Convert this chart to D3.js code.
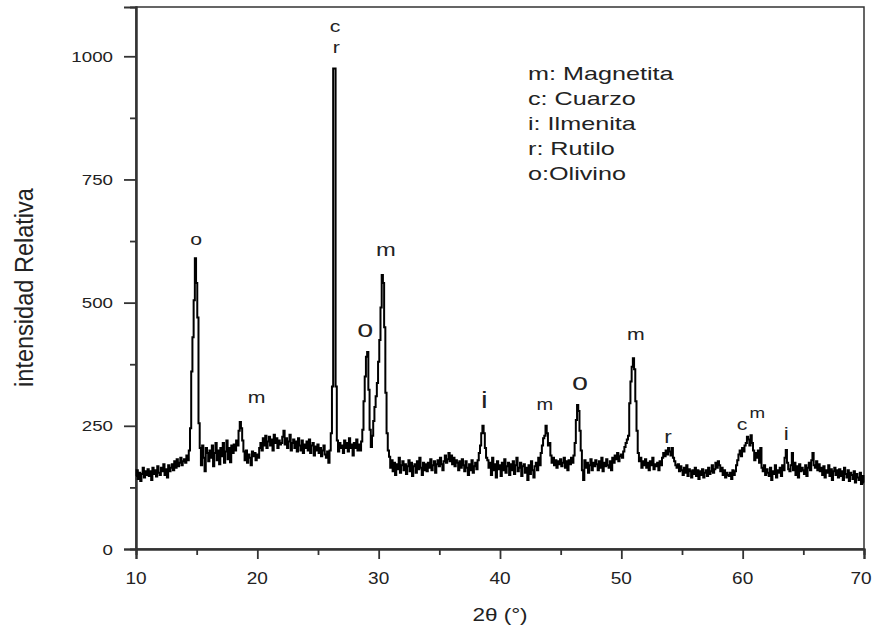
<!DOCTYPE html>
<html>
<head>
<meta charset="utf-8">
<script src="https://cdn.jsdelivr.net/npm/d3@7/dist/d3.min.js"></script>
<style>
  html, body { margin: 0; padding: 0; background: #fff; }
  svg { display: block; }
  text { font-family: "Liberation Sans", Arial, sans-serif; fill: #222; }
</style>
</head>
<body>
<script>
// ---------------- DATA ----------------
const angleStart = 10, angleStep = 0.1;   // sampling grid of the scan (2θ, degrees)
const intensity = [
  148,160,142,155,138,152,165,145,158,150,   // 10
  162,148,158,140,165,152,160,147,168,155,   // 11
  150,165,158,172,150,162,145,170,158,165,   // 12
  172,160,178,165,182,168,175,185,170,178,   // 13
  182,175,190,180,200,245,360,430,505,590,   // 14
  540,470,255,205,170,210,185,158,205,195,   // 15
  178,200,185,210,168,195,215,180,200,172,   // 16
  205,188,215,175,198,220,182,205,176,210,   // 17
  195,212,200,220,210,240,258,245,220,198,   // 18
  180,200,175,192,185,170,198,188,195,180,   // 19
  192,185,205,215,200,225,210,230,205,218,   // 20
  228,210,222,200,232,215,225,205,220,212,   // 21
  215,228,240,212,225,205,218,232,200,215,   // 22
  222,205,218,198,225,210,200,220,195,212,   // 23
  205,218,200,222,195,210,215,190,208,200,   // 24
  212,195,205,188,200,210,192,185,198,175,   // 25
  200,235,330,975,975,330,220,198,215,205,   // 26
  210,195,220,205,215,198,225,205,212,190,   // 27
  215,205,222,200,212,200,218,242,300,350,   // 28
  390,400,323,242,207,230,260,288,310,337,   // 29
  380,424,490,556,540,450,317,235,200,187,   // 30
  165,180,158,175,150,172,162,185,155,170,   // 31
  178,160,172,152,168,180,158,175,148,168,   // 32
  172,155,178,162,185,165,150,175,160,172,   // 33
  158,175,165,182,160,170,178,155,172,180,   // 34
  168,185,172,160,178,190,175,182,195,178,   // 35
  190,172,185,168,180,175,160,178,165,182,   // 36
  170,158,178,165,150,172,160,180,155,168,   // 37
  175,162,180,195,210,235,250,235,205,185,   // 38
  180,165,175,150,185,160,172,145,178,162,   // 39
  170,148,175,160,182,155,168,175,150,172,   // 40
  160,178,152,170,185,158,165,175,148,168,   // 41
  172,155,165,140,170,152,178,160,145,168,   // 42
  175,160,185,170,195,210,225,230,250,235,   // 43
  210,215,190,175,185,170,180,165,178,172,   // 44
  182,168,175,185,165,178,160,180,172,185,   // 45
  175,190,215,262,292,280,240,200,160,140,   // 46
  180,165,175,155,170,182,160,175,168,180,   // 47
  172,160,178,165,185,158,175,168,182,170,   // 48
  165,178,160,185,175,190,182,195,178,188,   // 49
  192,185,198,207,215,222,230,296,340,370,   // 50
  387,365,300,240,195,178,185,165,178,170,   // 51
  182,165,175,160,178,170,185,162,172,168,   // 52
  175,160,178,170,185,195,188,200,192,205,   // 53
  198,190,205,185,178,170,165,172,158,168,   // 54
  160,150,165,155,170,148,162,158,145,160,   // 55
  152,165,148,160,142,158,150,162,145,155,   // 56
  160,148,165,152,158,170,155,162,175,165,   // 57
  178,170,158,165,150,160,145,155,150,148,   // 58
  155,142,160,150,158,170,180,192,200,188,   // 59
  205,198,210,215,228,222,210,231,215,200,   // 60
  180,195,185,200,175,205,165,158,170,150,   // 61
  162,155,148,165,140,158,152,170,145,160,   // 62
  155,165,148,170,160,185,201,175,162,158,   // 63
  170,195,160,175,150,168,145,172,158,165,   // 64
  160,152,170,148,165,175,160,180,195,170,   // 65
  165,178,160,172,158,165,150,168,145,160,   // 66
  155,170,148,162,140,158,165,150,160,145,   // 67
  162,148,158,140,165,152,145,160,138,155,   // 68
  150,142,158,135,152,145,140,155,132,148,   // 69
  135                                         // 70
];

const xMajorTicks = [10, 20, 30, 40, 50, 60, 70];
const xMinorTicks = [15, 25, 35, 45, 55, 65];
const yMajorTicks = [0, 250, 500, 750, 1000];
const yMinorTicks = [125, 375, 625, 875];

const legendLines = ["m: Magnetita", "c: Cuarzo", "i: Ilmenita", "r: Rutilo", "o:Olivino"];

// peak labels (text, 2θ, intensity at the label baseline)
const labelText      = ["o", "m", "c", "r", "o", "m", "i", "m", "o", "m", "r", "c", "m", "i"];
const labelAngle     = [14.95, 19.95, 26.4, 26.5, 28.9, 30.6, 38.7, 43.7, 46.6, 51.2, 53.85, 59.95, 61.2, 63.6];
const labelIntensity = [617, 296, 1049, 1007, 430, 595, 286, 282, 323, 424, 215, 241, 266, 221];

const xTitle = "2θ (°)";
const yTitle = "intensidad Relativa";

// ---------------- STYLE ----------------
const labelSize = [17, 17, 17, 17, 23, 19, 24, 16, 23, 17, 18, 17, 15, 18];
const W = 872, H = 631;
const plot = { left: 136, right: 864, top: 7, bottom: 549 };

// ---------------- CHART ----------------
const points = intensity.map((v, i) => ({ a: angleStart + i * angleStep, v }));

const svg = d3.select("body").append("svg").attr("width", W).attr("height", H);

const x = d3.scaleLinear().domain([10, 70]).range([plot.left, plot.right]);
const y = d3.scaleLinear().domain([0, 1100]).range([plot.bottom, plot.top]);

// frame (top/right)
svg.append("rect")
  .attr("x", plot.left).attr("y", plot.top)
  .attr("width", plot.right - plot.left).attr("height", plot.bottom - plot.top)
  .attr("fill", "none").attr("stroke", "#333").attr("stroke-width", 1.5);

// x axis
const gx = svg.append("g").attr("transform", `translate(0,${plot.bottom})`);
gx.call(d3.axisBottom(x).tickValues(xMajorTicks).tickSize(10).tickFormat(""));
gx.append("g").call(d3.axisBottom(x).tickValues(xMinorTicks).tickSize(6).tickFormat(""));
gx.selectAll(".domain").attr("stroke", "#333").attr("stroke-width", 2);
gx.selectAll(".tick line").attr("stroke", "#333").attr("stroke-width", 1.8);

const xl = svg.append("g");
xMajorTicks.forEach(t => {
  // keep the last label inside the window edge
  const cx = Math.min(x(t), W - 11);
  xl.append("text")
    .attr("transform", `translate(${cx},584) scale(1.12,1)`)
    .attr("text-anchor", "middle")
    .style("font-size", "17px")
    .text(t);
});

// y axis
const gy = svg.append("g").attr("transform", `translate(${plot.left},0)`);
gy.call(d3.axisLeft(y).tickValues(yMajorTicks).tickSize(12).tickFormat(""));
gy.append("g").call(d3.axisLeft(y).tickValues(yMinorTicks).tickSize(6).tickFormat(""));
gy.selectAll(".domain").attr("stroke", "#333").attr("stroke-width", 2);
gy.selectAll(".tick line").attr("stroke", "#333").attr("stroke-width", 1.8);

const yl = svg.append("g");
yMajorTicks.forEach(t => {
  yl.append("text")
    .attr("transform", `translate(113,${y(t) + 5.5}) scale(1.25,1)`)
    .attr("text-anchor", "end")
    .style("font-size", "15px")
    .text(t);
});

// axis titles
svg.append("text")
  .attr("transform", `translate(${(plot.left + plot.right) / 2},621) scale(1.25,1)`)
  .attr("text-anchor", "middle")
  .style("font-size", "18px")
  .text(xTitle);

svg.append("text")
  .attr("transform", `translate(33,287.5) rotate(-90) scale(1.07,1.2)`)
  .attr("text-anchor", "middle")
  .style("font-size", "22px")
  .text(yTitle);

// spectrum
const line = d3.line()
  .x(d => x(d.a))
  .y(d => y(d.v))
  .curve(d3.curveStep);

svg.append("path")
  .datum(points)
  .attr("d", line)
  .attr("fill", "none")
  .attr("stroke", "#000")
  .attr("stroke-width", 2)
  .attr("stroke-linejoin", "miter");

// peak labels
labelText.forEach((t, i) => {
  svg.append("text")
    .attr("transform", `translate(${x(labelAngle[i])},${y(labelIntensity[i])}) scale(1.25,1)`)
    .attr("text-anchor", "middle")
    .style("font-size", labelSize[i] + "px")
    .text(t);
});

// legend
legendLines.forEach((t, i) => {
  svg.append("text")
    .attr("transform", `translate(528,${80 + i * 25}) scale(1.4,1)`)
    .style("font-size", "18px")
    .text(t);
});
</script>
</body>
</html>
